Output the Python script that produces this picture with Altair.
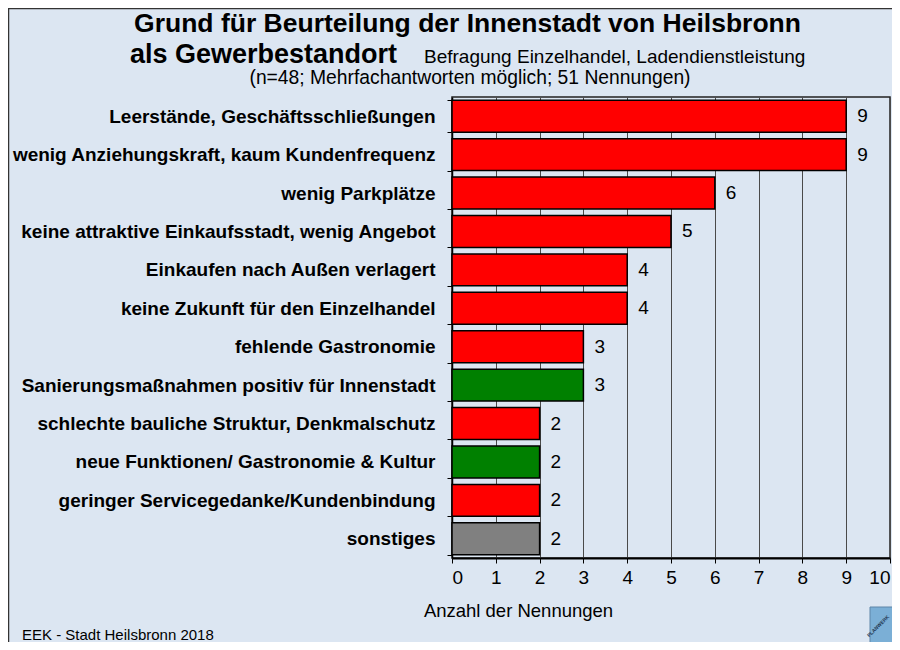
import altair as alt
import pandas as pd

categories = [
    "Leerstände, Geschäftsschließungen",
    "wenig Anziehungskraft, kaum Kundenfrequenz",
    "wenig Parkplätze",
    "keine attraktive Einkaufsstadt, wenig Angebot",
    "Einkaufen nach Außen verlagert",
    "keine Zukunft für den Einzelhandel",
    "fehlende Gastronomie",
    "Sanierungsmaßnahmen positiv für Innenstadt",
    "schlechte bauliche Struktur, Denkmalschutz",
    "neue Funktionen/ Gastronomie & Kultur",
    "geringer Servicegedanke/Kundenbindung",
    "sonstiges",
]
values = [9, 9, 6, 5, 4, 4, 3, 3, 2, 2, 2, 2]
groups = ["negativ", "negativ", "negativ", "negativ", "negativ", "negativ",
          "negativ", "positiv", "negativ", "positiv", "negativ", "sonstiges"]
group_names = ["negativ", "positiv", "sonstiges"]
group_colors = ["#ff0000", "#008000", "#808080"]
x_ticks = list(range(0, 11))

title_line1 = "Grund für Beurteilung der Innenstadt von Heilsbronn"
title_line2 = "als Gewerbestandort"
subtitle_a = "Befragung Einzelhandel, Ladendienstleistung"
subtitle_b = "(n=48; Mehrfachantworten möglich; 51 Nennungen)"
x_title = "Anzahl der Nennungen"
footer = "EEK - Stadt Heilsbronn 2018"
logo_text = "PLANWERK"

df = pd.DataFrame({"Grund": categories, "Anzahl": values, "Gruppe": groups})

BG = "#dce6f2"
FONT = "Liberation Sans"

y_enc = alt.Y(
    "Grund:N",
    sort=categories,
    title=None,
    scale=alt.Scale(paddingInner=0.17, paddingOuter=0.085),
    axis=alt.Axis(
        labelFontSize=19,
        labelFontWeight="bold",
        labelFont=FONT,
        labelColor="#000000",
        labelPadding=12,
        labelLimit=600,
        tickBand="extent",
        tickSize=5,
        tickColor="#000000",
        domainColor="#000000",
        domainWidth=1.5,
        grid=False,
    ),
)

x_enc = alt.X(
    "Anzahl:Q",
    scale=alt.Scale(domain=[0, 10], nice=False),
    title=x_title,
    axis=alt.Axis(
        values=x_ticks,
        format="d",
        grid=True,
        gridColor="#4a4a4a",
        gridWidth=1,
        domainColor="#000000",
        domainWidth=2,
        tickColor="#000000",
        tickSize=5,
        labelFontSize=19,
        labelFont=FONT,
        labelColor="#000000",
        labelPadding=5,
        titleFontSize=18.5,
        titleFont=FONT,
        titleFontWeight="normal",
        titleColor="#000000",
        titleX=66,
        titleY=52,
        titleAlign="center",
        titleBaseline="middle",
    ),
)

base = alt.Chart(df)

bars = base.mark_bar(stroke="#000000", strokeWidth=1.5).encode(
    x=x_enc,
    y=y_enc,
    color=alt.Color(
        "Gruppe:N",
        scale=alt.Scale(domain=group_names, range=group_colors),
        legend=None,
    ),
)

labels = base.mark_text(align="left", baseline="middle", dx=11, fontSize=19,
                        font=FONT, color="#000000").encode(
    x="Anzahl:Q",
    y=alt.Y("Grund:N", sort=categories),
    text="Anzahl:Q",
)

def txt(text, x, y, size, weight="normal", align="left", angle=0, color="#000000"):
    return alt.Chart(pd.DataFrame({"t": [text]})).mark_text(
        align=align, baseline="middle", fontSize=size, fontWeight=weight,
        font=FONT, color=color, angle=angle,
    ).encode(x=alt.value(x), y=alt.value(y), text="t:N")

t1 = txt(title_line1, 15.5, -73, 26.5, "bold", "center")
t2 = txt(title_line2, -322, -42, 27, "bold", "left")
t3 = txt(subtitle_a, -28, -40, 19, "normal", "left")
t4 = txt(subtitle_b, 18, -19, 19.3, "normal", "center")
t5 = txt(footer, -430, 538, 15, "normal", "left")

logo = alt.Chart(pd.DataFrame({"a": [1]})).mark_rect(
    color="#7bafd6", stroke="#5f86a8", strokeWidth=1
).encode(x=alt.value(418), x2=alt.value(460), y=alt.value(510), y2=alt.value(570))
logo_t = txt(logo_text, 426, 529, 5, "bold", "center", 315, "#1e3550")

border_l = alt.Chart(pd.DataFrame({"a": [1]})).mark_rule(color="#333333", strokeWidth=1.5).encode(
    x=alt.value(-443.5), y=alt.value(-89), y2=alt.value(560))
border_t = alt.Chart(pd.DataFrame({"a": [1]})).mark_rule(color="#333333", strokeWidth=1.5).encode(
    x=alt.value(-444), x2=alt.value(460), y=alt.value(-88.5))

chart = alt.layer(bars, labels, t1, t2, t3, t4, t5, logo, logo_t, border_l, border_t).properties(
    width=438,
    height=461,
    background=BG,
    padding={"left": 444, "top": 89, "right": 2, "bottom": 84},
    autosize=alt.AutoSizeParams(type="none"),
).configure_view(
    stroke="#222222", strokeWidth=1.5, fill=BG
)

chart.save("out.html", embed_options={"renderer": "svg", "actions": False})
